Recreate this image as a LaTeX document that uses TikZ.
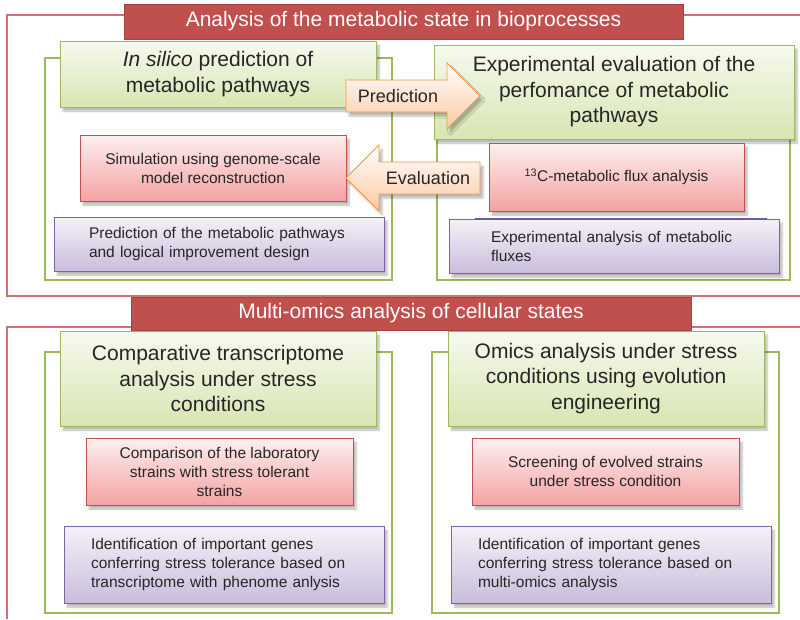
\documentclass[tikz,border=0pt]{standalone}
\usepackage{fontspec}
\setmainfont{Liberation Sans}
\usepackage{tikz}
\usetikzlibrary{shadows.blur}
\definecolor{bandRed}{HTML}{C0504D}
\definecolor{leafGreen}{HTML}{9BBB59}
\definecolor{leafTop}{HTML}{F6FAEE}
\definecolor{leafBot}{HTML}{D8E5B3}
\definecolor{roseTop}{HTML}{FDEFEF}
\definecolor{roseBot}{HTML}{F4A2A2}
\definecolor{lilacLine}{HTML}{8064A2}
\definecolor{lilacTop}{HTML}{F4F1F8}
\definecolor{lilacBot}{HTML}{CABDDB}
\definecolor{peachLine}{HTML}{F79646}
\definecolor{peachBot}{HTML}{FBC9A2}
\definecolor{inkDark}{HTML}{262626}

\begin{document}
\begin{tikzpicture}[x=1pt, y=-1pt,
  soft/.style={blur shadow={shadow xshift=3pt, shadow yshift=-4pt, shadow blur steps=6, shadow opacity=28}},
  band/.style={fill=bandRed, draw=bandRed!85!black, text=white, inner sep=0pt,
    font=\fontsize{21}{25}\selectfont},
  headbox/.style={soft, draw=leafGreen, line width=0.9pt, top color=leafTop, bottom color=leafBot,
    text=inkDark, align=center, inner sep=0pt, font=\fontsize{21}{25.5}\selectfont},
  rosebox/.style={soft, draw=bandRed, line width=0.8pt, top color=roseTop, bottom color=roseBot,
    text=inkDark, align=center, inner sep=0pt, font=\fontsize{15.5}{19}\selectfont},
  lilacbox/.style={soft, draw=lilacLine, line width=0.8pt, top color=lilacTop, bottom color=lilacBot,
    text=inkDark, align=left, inner ysep=0pt, font=\fontsize{15.5}{19}\selectfont},
  frame/.style={draw=leafGreen, line width=1.1pt},
  outline/.style={draw=bandRed!80, line width=1.3pt},
  blockarrow/.style={soft, draw=peachLine, line width=0.9pt, top color=white, bottom color=peachBot},
  arrowtext/.style={text=inkDark, inner sep=0pt, font=\fontsize{18}{21}\selectfont}]
\useasboundingbox (0,0) rectangle (800,619);

% ---- metabolic state ----
\draw[outline] (800,15) -- (7,15) -- (7,296) -- (800,296);
\node[band, minimum width=559pt, minimum height=35pt] (bandA) at (403.5,21.5)
  {Analysis of the metabolic state in bioprocesses};
\draw[frame] (45,58) rectangle (392,280);
\draw[frame] (437,58) rectangle (790,280);

\node[headbox, minimum width=316pt, minimum height=66pt] (silico) at (218,74)
  {\textit{In silico} prediction of\\metabolic pathways};
\node[headbox, minimum width=360pt, minimum height=94pt] (expeval) at (614,92)
  {Experimental evaluation of the\\perfomance of metabolic\\pathways};

\node[rosebox, minimum width=266pt, minimum height=66pt] (genome) at (213,168)
  {Simulation using genome-scale\\model reconstruction};
\node[lilacbox, text width=260pt, inner xsep=35pt, minimum height=54pt] (design) at (219,244)
  {Prediction of the metabolic pathways\\and logical improvement design};

\node[rosebox, minimum width=255pt, minimum height=68pt] (flux13) at (616.5,177)
  {\textsuperscript{13}C-metabolic flux analysis};
\node[lilacbox, text width=246pt, inner xsep=42pt, minimum height=54pt] (expflux) at (614,246)
  {Experimental analysis of metabolic\\fluxes};
\draw[lilacLine!90!black, line width=2.2pt] ([xshift=26pt]expflux.north west) -- ([xshift=-12pt]expflux.north east);

% prediction / evaluation arrows
\draw[blockarrow] (346,80) -- (447,80) -- (447,63) -- (480,96) -- (447,129) -- (447,112) -- (346,112) -- cycle;
\node[arrowtext] (pred) at (398,96) {Prediction};
\draw[blockarrow] (480,162) -- (379,162) -- (379,145) -- (346,178) -- (379,211) -- (379,194) -- (480,194) -- cycle;
\node[arrowtext] (eval) at (428,178) {Evaluation};

% ---- multi-omics ----
\draw[outline] (800,327) -- (7,327) -- (7,619);
\node[band, minimum width=560pt, minimum height=33pt] (bandB) at (411,313.5)
  {Multi-omics analysis of cellular states};
\draw[frame] (45,352) rectangle (392,613);
\draw[frame] (432,352) rectangle (779,613);

\node[headbox, minimum width=316pt, minimum height=95pt] (transc) at (218,378.5)
  {Comparative transcriptome\\analysis under stress\\conditions};
\node[headbox, minimum width=316pt, minimum height=95pt] (omics) at (606,378.5)
  {Omics analysis under stress\\conditions using evolution\\engineering};

\node[rosebox, minimum width=267pt, minimum height=67pt] (labstr) at (219.5,471.5)
  {Comparison of the laboratory\\strains with stress tolerant\\strains};
\node[rosebox, minimum width=267pt, minimum height=67pt] (evostr) at (605.5,471.5)
  {Screening of evolved strains\\under stress condition};

\node[lilacbox, text width=266pt, inner xsep=27pt, minimum height=77pt] (genesT) at (224,564.5)
  {Identification of important genes\\conferring stress tolerance based on\\transcriptome with phenome anlysis};
\node[lilacbox, text width=266pt, inner xsep=27pt, minimum height=77pt] (genesO) at (611,564.5)
  {Identification of important genes\\conferring stress tolerance based on\\multi-omics analysis};
\end{tikzpicture}
\end{document}
